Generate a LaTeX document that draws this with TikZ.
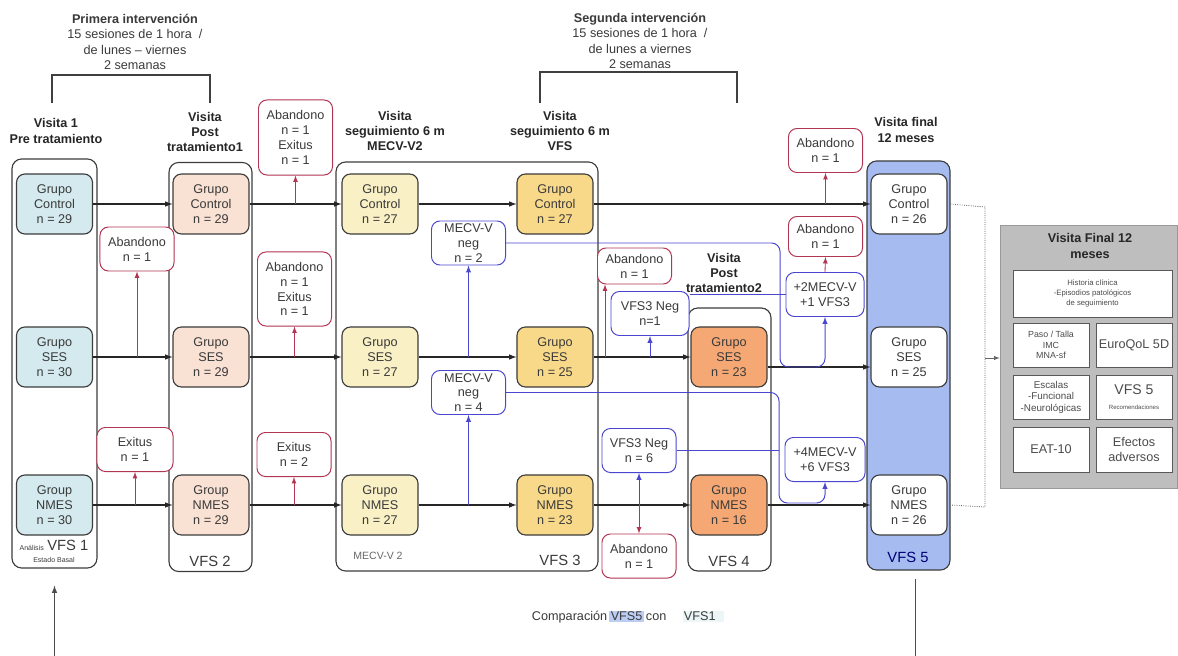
\documentclass[tikz,border=0pt]{standalone}
\usepackage{fontspec}
\setmainfont{Liberation Sans}
\usepackage{xcolor}
\usetikzlibrary{positioning,arrows,calc}

\definecolor{txt}{HTML}{3A3A3A}
\definecolor{edge}{HTML}{3C3C3C}
\definecolor{pre}{HTML}{D4EAEE}
\definecolor{post}{HTML}{F9E1D4}
\definecolor{mecv}{HTML}{F9F0C6}
\definecolor{vfs}{HTML}{F8D98A}
\definecolor{post2}{HTML}{F5A873}
\definecolor{final}{HTML}{A6BCF0}
\definecolor{lost}{HTML}{B23552}
\definecolor{neg}{HTML}{4A46CF}
\definecolor{panel}{HTML}{BEBEBE}

\begin{document}
\begin{tikzpicture}[x=0.025cm, y=-0.025cm, >=latex,
    every node/.style={font=\fontsize{9}{10.6}\selectfont, text=txt},
    col/.style={draw=edge, rounded corners=7pt, line width=0.8pt, minimum width=2.075cm, minimum height=10.225cm, inner sep=0pt},
    grupo/.style={draw=edge, rounded corners=6pt, line width=0.8pt, minimum width=1.9cm, minimum height=1.5cm, align=center, inner sep=1pt},
    baja/.style={draw=lost, fill=white, rounded corners=6pt, line width=0.7pt, minimum width=1.85cm, minimum height=1.1cm, align=center, inner sep=1pt},
    negbox/.style={baja, draw=neg},
    titulo/.style={font=\bfseries\fontsize{9}{10.8}\selectfont, align=center, text=black!85},
    flujo/.style={->, thick, draw=black!85},
    baja line/.style={->, draw=lost, line width=0.6pt},
    neg line/.style={->, draw=neg, line width=0.7pt},
    item/.style={draw=black!65, fill=white, line width=0.6pt, minimum width=1.9cm, minimum height=1.1cm, align=center, inner sep=1pt, text=black!70}
]
\useasboundingbox (0,0) rectangle (1178,656);

% interventions
\node[titulo, font=\fontsize{9}{10.8}\selectfont, text=txt] (int1) at (135,42) {\textbf{Primera intervención}\\15 sesiones de 1 hora \ /\\de lunes -- viernes\\2 semanas};
\node[titulo, font=\fontsize{9}{10.8}\selectfont, text=txt] (int2) at (640,41) {\textbf{Segunda intervención}\\15 sesiones de 1 hora \ /\\de lunes a viernes\\2 semanas};
\draw[line width=0.9pt, black!75] (52,103) -- (52,75) -- (210,75) -- (210,103);
\draw[line width=0.9pt, black!75] (540,103) -- (540,72) -- (737,72) -- (737,103);

% visit titles
\node[titulo] (t1) at (56,131) {Visita 1\\Pre tratamiento};
\node[titulo] (t2) at (205,132) {Visita\\Post\\tratamiento1};
\node[titulo] (t3) at (395,131) {Visita\\seguimiento 6 m\\MECV-V2};
\node[titulo] (t4) at (560,131) {Visita\\seguimiento 6 m\\VFS};
\node[titulo] (t6) at (906,130) {Visita final\\12 meses};

% frames
\node[col, minimum width=2.125cm] (fr1) at (54.5,363.5) {};
\node[col] (fr2) at (210.5,367) {};
\node[col, minimum width=6.55cm] (fr3) at (467,366.5) {};
\node[col, minimum height=6.575cm] (fr5) at (729.5,439.5) {};
\node[col, fill=final] (fr6) at (908.5,365.5) {};

\node[titulo] (t5) at (724,273) {Visita\\Post\\tratamiento2};

% groups
\node[grupo, fill=pre] (ctrl1) at (54.5,204) {Grupo\\Control\\n = 29};
\node[grupo, fill=pre] (ses1) at (54.5,357) {Grupo\\SES\\n = 30};
\node[grupo, fill=pre] (nmes1) at (54.5,505) {Group\\NMES\\n = 30};

\node[grupo, fill=post] (ctrl2) at (211,204) {Grupo\\Control\\n = 29};
\node[grupo, fill=post] (ses2) at (211,357) {Grupo\\SES\\n = 29};
\node[grupo, fill=post] (nmes2) at (211,505) {Group\\NMES\\n = 29};

\node[grupo, fill=mecv] (ctrl3) at (380,204) {Grupo\\Control\\n = 27};
\node[grupo, fill=mecv] (ses3) at (380,357) {Grupo\\SES\\n = 27};
\node[grupo, fill=mecv] (nmes3) at (380,505) {Grupo\\NMES\\n = 27};

\node[grupo, fill=vfs] (ctrl4) at (555,204) {Grupo\\Control\\n = 27};
\node[grupo, fill=vfs] (ses4) at (555,357) {Grupo\\SES\\n = 25};
\node[grupo, fill=vfs] (nmes4) at (555,505) {Grupo\\NMES\\n = 23};

\node[grupo, fill=post2] (ses5) at (729,357) {Grupo\\SES\\n = 23};
\node[grupo, fill=post2] (nmes5) at (729,505) {Grupo\\NMES\\n = 16};

\node[grupo, fill=white] (ctrl6) at (909,204) {Grupo\\Control\\n = 26};
\node[grupo, fill=white] (ses6) at (909,357) {Grupo\\SES\\n = 25};
\node[grupo, fill=white] (nmes6) at (909,505) {Grupo\\NMES\\n = 26};

% VFS labels
\node[align=center] (vfs1) at (54,551) {{\fontsize{5}{6}\selectfont Análisis} {\fontsize{10.5}{12}\selectfont VFS 1}\\[-2pt]{\fontsize{5}{6}\selectfont Estado Basal}};
\node[font=\fontsize{10.5}{12}\selectfont] (vfs2) at (210,561) {VFS 2};
\node[font=\fontsize{7.5}{9}\selectfont, text=black!60] (mv2) at (378,556) {MECV-V 2};
\node[font=\fontsize{10.5}{12}\selectfont] (vfs3) at (560,560) {VFS 3};
\node[font=\fontsize{10.5}{12}\selectfont] (vfs4) at (729,561) {VFS 4};
\node[font=\fontsize{10.5}{12}\selectfont, text=blue!45!black] (vfs5) at (908,557) {VFS 5};

% losses
\node[baja] (aband1) at (137,249) {Abandono\\n = 1};
\node[baja, minimum width=1.9cm] (exit1) at (135,449.5) {Exitus\\n = 1};
\node[baja, minimum height=1.875cm] (abex1) at (295.5,137.5) {Abandono\\n = 1\\Exitus\\n = 1};
\node[baja, minimum height=1.85cm] (abex2) at (294.5,289) {Abandono\\n = 1\\Exitus\\n = 1};
\node[baja] (exit2) at (294,454.5) {Exitus\\n = 2};
\node[negbox] (neg1) at (468.5,243) {MECV-V\\neg\\n = 2};
\node[negbox] (neg2) at (468.5,392.5) {MECV-V\\neg\\n = 4};
\node[baja, minimum height=0.9cm] (aband2) at (634.5,266) {Abandono\\n = 1};
\node[negbox, minimum width=1.95cm] (vneg1) at (650,313.5) {VFS3 Neg\\n=1};
\node[negbox] (vneg2) at (639,450.5) {VFS3 Neg\\n = 6};
\node[baja] (aband3) at (639,556) {Abandono\\n = 1};
\node[baja] (aband4) at (825.5,150.5) {Abandono\\n = 1};
\node[baja, minimum height=1.0cm] (aband5) at (825.5,236.5) {Abandono\\n = 1};
\node[negbox, minimum width=1.95cm] (plus1) at (825,294.5) {+2MECV-V\\+1 VFS3};
\node[negbox, minimum width=2cm] (plus2) at (825,459.5) {+4MECV-V\\+6 VFS3};

% main flow
\draw[flujo] (ctrl1.east) -- (ctrl2.west);
\draw[flujo] (ctrl2.east) -- (ctrl3.west);
\draw[flujo] (ctrl3.east) -- (ctrl4.west);
\draw[flujo] (ctrl4.east) -- (ctrl6.west);
\draw[flujo] (ses1.east) -- (ses2.west);
\draw[flujo] (ses2.east) -- (ses3.west);
\draw[flujo] (ses3.east) -- (ses4.west);
\draw[flujo] (ses4.east) -- (ses5.west);
\draw[flujo] ($(ses5.east)+(0,10)$) -- ($(ses6.west)+(0,10)$);
\draw[flujo] (nmes1.east) -- (nmes2.west);
\draw[flujo] (nmes2.east) -- (nmes3.west);
\draw[flujo] (nmes3.east) -- (nmes4.west);
\draw[flujo] (nmes4.east) -- (nmes5.west);
\draw[flujo] (nmes5.east) -- (nmes6.west);

% drop-outs
\draw[baja line] (aband1.south |- ses1.east) -- (aband1.south);
\draw[baja line] (exit1.south |- nmes1.east) -- (exit1.south);
\draw[baja line] (abex1.south |- ctrl2.east) -- (abex1.south);
\draw[baja line] (abex2.south |- ses2.east) -- (abex2.south);
\draw[baja line] (exit2.south |- nmes2.east) -- (exit2.south);
\coordinate (cut) at ($(aband2.south west)+(8,0)$);
\draw[baja line] (cut |- ses4.east) -- (cut);
\draw[baja line] (aband3.north |- nmes4.east) -- (aband3.north);
\draw[baja line] (aband4.south |- ctrl4.east) -- (aband4.south);
\draw[baja line] (plus1.north) -- (aband5.south);

% negative screenings
\draw[neg line] (neg1.south |- ses3.east) -- (neg1.south);
\draw[neg line] (neg2.south |- nmes3.east) -- (neg2.south);
\draw[neg line] (vneg1.south |- ses4.east) -- (vneg1.south);
\draw[neg line] (vneg2.south |- nmes4.east) -- (vneg2.south);
\coordinate (j1) at (780,367);
\coordinate (j2) at (779,503);
\draw[neg line, rounded corners=6pt] (neg1.east) -- (neg1.east -| j1) -- (j1) -- (j1 -| plus1.south) -- (plus1.south);
\draw[neg line, rounded corners=6pt] (neg2.east) -- (neg2.east -| j2) -- (j2) -- (j2 -| plus2.south) -- (plus2.south);
\draw[draw=neg, line width=0.7pt] (vneg1.east |- plus1.west) -- (plus1.west);
\draw[draw=neg, line width=0.7pt] (vneg2.east) -- (vneg2.east -| j2);

% final evaluation panel
\node[draw=black!40, fill=panel, minimum width=4.425cm, minimum height=6.575cm, inner sep=0pt] (panel) at (1088.5,356.5) {};
\node[titulo] (pt) at (1090,246) {Visita Final 12\\meses};
\node[item, minimum width=3.975cm, minimum height=1.175cm, font=\fontsize{5.5}{6.8}\selectfont] (hist) at (1092.5,293.5) {Historia clínica\\-Episodios patológicos\\de seguimiento};
\node[item, font=\fontsize{6.3}{7.6}\selectfont] (paso) at (1051,345) {Paso / Talla\\IMC\\MNA-sf};
\node[item, font=\fontsize{9}{10.6}\selectfont] (euro) at (1134,345) {EuroQoL 5D};
\node[item, font=\fontsize{7}{8.2}\selectfont] (escal) at (1051,397) {Escalas\\-Funcional\\-Neurológicas};
\node[item] (vfsfin) at (1134,397) {{\fontsize{10}{11}\selectfont VFS 5}\\{\fontsize{4.3}{5}\selectfont Recomendaciones}};
\node[item, minimum height=1.125cm] (eat) at (1051,449.5) {EAT-10};
\node[item, minimum height=1.125cm] (efec) at (1134,449.5) {Efectos\\adversos};

\draw[densely dotted, black!60, line width=0.6pt] (fr6.east |- ctrl6.east) -- (985,207) -- (985,507) -- (fr6.east |- nmes6.east);
\coordinate (brk) at (985,358);
\draw[->, black!60] (brk) -- (panel.west |- brk);

% comparison loop
\draw[flujo, draw=black!70] ($(fr6.south)+(7,8)$) -- ++(0,100) -| ($(fr1.south)+(0,17)$);
\node[fill=white, inner sep=1pt] (cmp) at (628,617) {\setlength{\fboxsep}{1pt}Comparación\,\colorbox{final!75}{VFS5}\,con \quad\colorbox{pre!45}{VFS1\ \ }};

\end{tikzpicture}
\end{document}
